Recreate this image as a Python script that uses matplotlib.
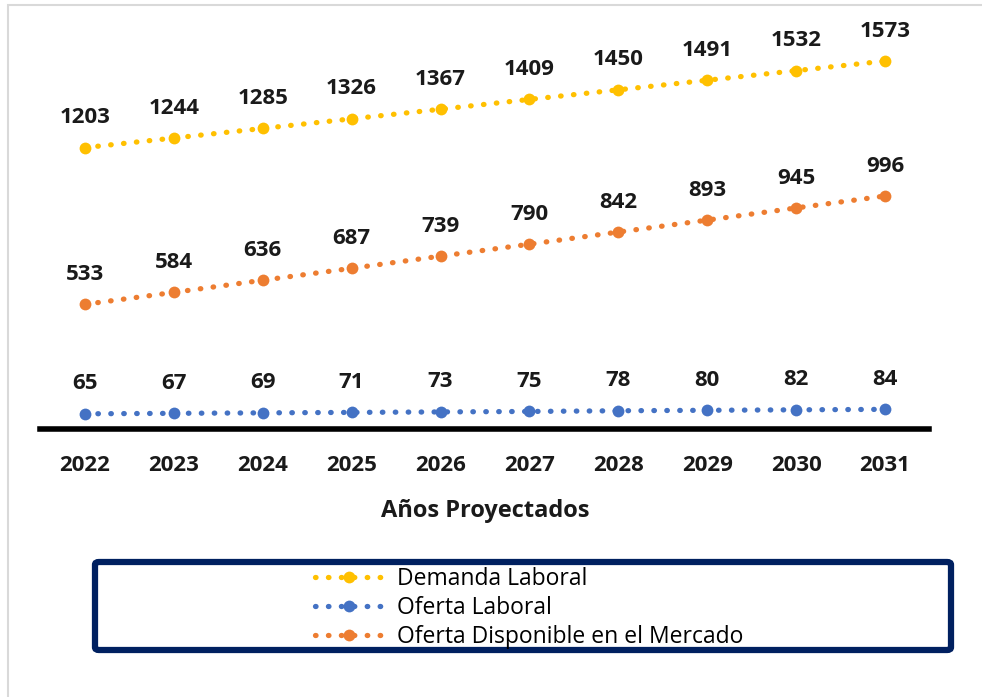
import matplotlib
matplotlib.use("Agg")
import matplotlib.pyplot as plt
from matplotlib.patches import Rectangle, FancyBboxPatch

plt.rcParams['font.family'] = ['Open Sans', 'DejaVu Sans']

years = ["2022", "2023", "2024", "2025", "2026", "2027", "2028", "2029", "2030", "2031"]
demanda = [1203, 1244, 1285, 1326, 1367, 1409, 1450, 1491, 1532, 1573]
oferta = [65, 67, 69, 71, 73, 75, 78, 80, 82, 84]
disponible = [533, 584, 636, 687, 739, 790, 842, 893, 945, 996]

series = [
    ("Demanda Laboral", demanda, "#FFC000"),
    ("Oferta Laboral", oferta, "#4472C4"),
    ("Oferta Disponible en el Mercado", disponible, "#ED7D31"),
]

fig = plt.figure(figsize=(9.82, 6.97), dpi=100)
ax = fig.add_axes([40.5 / 982, 1 - 429 / 697, (929.4 - 40.5) / 982, (429 - 11) / 697])

x = list(range(len(years)))
handles = []
for name, vals, col in series:
    ln, = ax.plot(x, vals, color=col, lw=3.8, dashes=(0.1, 2.35), dash_capstyle='round',
                  marker='o', markersize=8.5, markeredgewidth=0, label=name, clip_on=False)
    handles.append(ln)
    for xi, v in zip(x, vals):
        ax.annotate(str(v), (xi, v), xytext=(0, 14), textcoords='offset points',
                    ha='center', va='bottom', fontsize=16, fontweight='bold', color='#1a1a1a')

ax.set_xlim(-0.5, len(years) - 0.5)
ax.set_ylim(0, 1787)
ax.set_xticks(x)
ax.set_xticklabels(years, fontsize=16, fontweight='bold', color='#1a1a1a')
ax.tick_params(axis='x', length=0, pad=19)
ax.set_yticks([])
for s in ['top', 'right', 'left']:
    ax.spines[s].set_visible(False)
ax.spines['bottom'].set_linewidth(4)
ax.spines['bottom'].set_color('black')
ax.set_xlabel("Años Proyectados", fontsize=17, fontweight='bold', color='#1a1a1a', labelpad=16)

# outer chart border (light gray)
fig.patches.append(Rectangle((8 / 982, -0.1), 1.2, 1 - 5 / 697 + 0.1, transform=fig.transFigure,
                             fill=False, edgecolor='#D9D9D9', lw=1.5))

# legend box
bx0, bx1 = 95 / 982, 951 / 982
by0, by1 = 1 - 650 / 697, 1 - 562 / 697
fig.patches.append(FancyBboxPatch((bx0, by0), bx1 - bx0, by1 - by0,
                                  boxstyle="round,pad=0,rounding_size=0.004",
                                  transform=fig.transFigure, fill=False,
                                  edgecolor='#002060', lw=4.5))
fig.legend(handles=handles, loc='center',
           bbox_to_anchor=((bx0 + bx1) / 2 + 6 / 982, (by0 + by1) / 2 - 2 / 697),
           frameon=False, fontsize=16.5, handlelength=3.0, handletextpad=0.6,
           labelspacing=0.2, markerscale=1.0, borderpad=0)

fig.savefig("out.png", dpi=100)
